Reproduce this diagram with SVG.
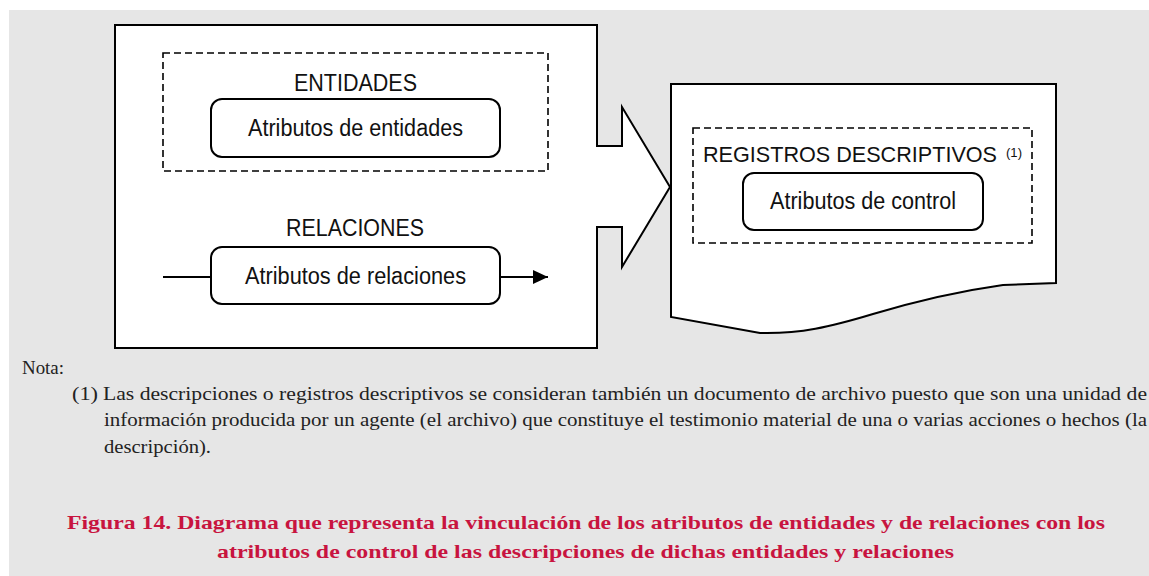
<svg xmlns="http://www.w3.org/2000/svg" width="1149" height="576" viewBox="0 0 1149 576">
<style>
.bg{fill:#e6e6e6}
.shape{fill:#fff;stroke:#000;stroke-width:2;stroke-linejoin:miter}
.dash{fill:none;stroke:#000;stroke-width:1.6;stroke-dasharray:7 4}
.rbox{fill:#fff;stroke:#000;stroke-width:2}
.lbl{font-family:"Liberation Sans",Arial,sans-serif;font-size:23px;fill:#111}
.sup{font-family:"Liberation Sans",Arial,sans-serif;font-size:12px;fill:#111}
.note{font-family:"Liberation Serif","Times New Roman",serif;font-size:19px;fill:#222}
.cap{font-family:"Liberation Serif","Times New Roman",serif;font-size:19px;font-weight:bold;fill:#c8143f}
.conn{stroke:#000;stroke-width:2;fill:none}
</style>
<defs>
<marker id="ah" markerWidth="15" markerHeight="14" refX="15" refY="7" orient="auto" markerUnits="userSpaceOnUse">
<path d="M0,0 L15,7 L0,14 Z" fill="#000"/>
</marker>
</defs>
<rect width="1149" height="576" fill="#fff"/>
<rect class="bg" x="9" y="10" width="1140" height="566"/>

<g id="origen">
<path class="shape" d="M115,25 H597 V146 H622 V107 L670,187 L622,267 V227 H597 V348 H115 Z"/>
</g>

<g id="entidades">
<rect class="dash" x="163" y="53" width="385" height="118"/>
<text class="lbl" x="294" y="91" textLength="123" lengthAdjust="spacingAndGlyphs">ENTIDADES</text>
</g>
<g id="atributos-entidades">
<rect class="rbox" x="211" y="99" width="289" height="58" rx="11"/>
<text class="lbl" x="248" y="136" textLength="215" lengthAdjust="spacingAndGlyphs">Atributos de entidades</text>
</g>

<g id="relaciones">
<text class="lbl" x="286" y="236" textLength="138" lengthAdjust="spacingAndGlyphs">RELACIONES</text>
</g>
<g id="atributos-relaciones">
<rect class="rbox" x="211" y="247" width="289" height="57" rx="11"/>
<text class="lbl" x="245" y="284" textLength="221" lengthAdjust="spacingAndGlyphs">Atributos de relaciones</text>
</g>

<g id="connectors">
<line class="conn" x1="163" y1="277" x2="211" y2="277"/>
<line class="conn" x1="500" y1="277" x2="548" y2="277" marker-end="url(#ah)"/>
</g>

<g id="documento">
<path class="shape" d="M671,84 H1056 V283 L1003,285 C960,291 920,300 873,314 C830,327 800,334 760,333 L671,317 Z"/>
</g>
<g id="registros">
<rect class="dash" x="693" y="128" width="339" height="115"/>
<text class="lbl" x="703" y="162" style="font-size:21.5px" textLength="294" lengthAdjust="spacingAndGlyphs">REGISTROS DESCRIPTIVOS</text>
<text class="sup" x="1006" y="157" textLength="16" lengthAdjust="spacingAndGlyphs">(1)</text>
</g>
<g id="atributos-control">
<rect class="rbox" x="743" y="173" width="240" height="57" rx="11"/>
<text class="lbl" x="770" y="209" textLength="186" lengthAdjust="spacingAndGlyphs">Atributos de control</text>
</g>

<g id="nota">
<text class="note" x="22" y="374" textLength="42" lengthAdjust="spacingAndGlyphs">Nota:</text>
<text class="note" x="72" y="400" textLength="26" lengthAdjust="spacingAndGlyphs">(1)</text>
<text class="note" x="103" y="400" textLength="1044" lengthAdjust="spacingAndGlyphs">Las descripciones o registros descriptivos se consideran también un documento de archivo puesto que son una unidad de</text>
<text class="note" x="104" y="426" textLength="1043" lengthAdjust="spacingAndGlyphs">información producida por un agente (el archivo) que constituye el testimonio material de una o varias acciones o hechos (la</text>
<text class="note" x="104" y="453" textLength="107" lengthAdjust="spacingAndGlyphs">descripción).</text>
</g>

<g id="caption">
<text class="cap" x="67" y="529" textLength="1038" lengthAdjust="spacingAndGlyphs">Figura 14. Diagrama que representa la vinculación de los atributos de entidades y de relaciones con los</text>
<text class="cap" x="217" y="558" textLength="737" lengthAdjust="spacingAndGlyphs">atributos de control de las descripciones de dichas entidades y relaciones</text>
</g>
</svg>
